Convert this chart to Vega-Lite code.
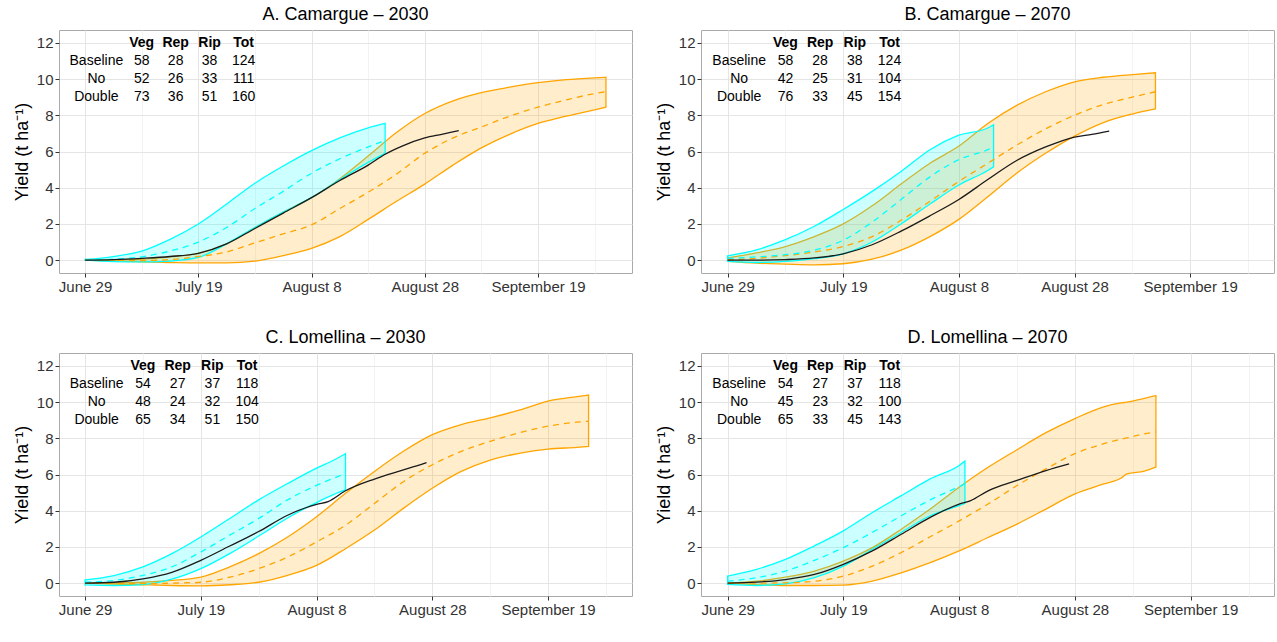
{
  "$schema": "https://vega.github.io/schema/vega-lite/v6.json",
  "padding": {"left": 12, "top": 5, "right": 2, "bottom": 5},
  "background": "white",
  "columns": 2,
  "spacing": {"row": 33, "column": 21},
  "config": {
    "font": "Liberation Sans",
    "view": {"stroke": "#aaaaaa", "strokeWidth": 1},
    "title": {"fontSize": 18, "fontWeight": "normal", "color": "#000000", "anchor": "middle", "frame": "group", "offset": 6},
    "axis": {"domain": false, "tickColor": "#333333", "tickSize": 4, "labelColor": "#333333", "labelFontSize": 15, "labelPadding": 2, "titleFontSize": 18, "titleFontWeight": "normal", "titleColor": "#000000", "labelOverlap": false, "labelFlush": false, "titlePadding": 5},
    "area": {"interpolate": "monotone"},
    "line": {"interpolate": "monotone"}
  },
  "datasets": {
    "bands": [
      {"p":"A","g":"o","d":0,"lo":0,"md":0,"hi":0},
      {"p":"A","g":"o","d":5,"lo":-0.05,"md":-0.01,"hi":0.02},
      {"p":"A","g":"o","d":10,"lo":-0.1,"md":-0.02,"hi":0.05},
      {"p":"A","g":"o","d":15,"lo":-0.13,"md":0.03,"hi":0.18},
      {"p":"A","g":"o","d":20,"lo":-0.15,"md":0.2,"hi":0.38},
      {"p":"A","g":"o","d":25,"lo":-0.15,"md":0.45,"hi":0.9},
      {"p":"A","g":"o","d":30,"lo":-0.05,"md":0.95,"hi":1.8},
      {"p":"A","g":"o","d":35,"lo":0.25,"md":1.45,"hi":2.65},
      {"p":"A","g":"o","d":40,"lo":0.65,"md":1.95,"hi":3.45},
      {"p":"A","g":"o","d":45,"lo":1.3,"md":2.85,"hi":4.5},
      {"p":"A","g":"o","d":50,"lo":2.25,"md":3.75,"hi":5.75},
      {"p":"A","g":"o","d":55,"lo":3.25,"md":4.75,"hi":7.05},
      {"p":"A","g":"o","d":60,"lo":4.2,"md":5.9,"hi":8.1},
      {"p":"A","g":"o","d":65,"lo":5.25,"md":6.75,"hi":8.8},
      {"p":"A","g":"o","d":70,"lo":6.2,"md":7.35,"hi":9.25},
      {"p":"A","g":"o","d":75,"lo":6.95,"md":7.95,"hi":9.55},
      {"p":"A","g":"o","d":80,"lo":7.55,"md":8.45,"hi":9.8},
      {"p":"A","g":"o","d":85,"lo":7.95,"md":8.85,"hi":9.97},
      {"p":"A","g":"o","d":90,"lo":8.3,"md":9.2,"hi":10.07},
      {"p":"A","g":"o","d":92,"lo":8.45,"md":9.3,"hi":10.1},
      {"p":"A","g":"c","d":0,"lo":0,"md":0,"hi":0.04},
      {"p":"A","g":"c","d":5,"lo":-0.08,"md":0.05,"hi":0.2},
      {"p":"A","g":"c","d":10,"lo":-0.1,"md":0.18,"hi":0.5},
      {"p":"A","g":"c","d":15,"lo":-0.05,"md":0.5,"hi":1.15},
      {"p":"A","g":"c","d":20,"lo":0.15,"md":1.0,"hi":2.0},
      {"p":"A","g":"c","d":25,"lo":0.9,"md":1.8,"hi":3.1},
      {"p":"A","g":"c","d":30,"lo":1.8,"md":2.85,"hi":4.25},
      {"p":"A","g":"c","d":35,"lo":2.65,"md":3.8,"hi":5.2},
      {"p":"A","g":"c","d":40,"lo":3.45,"md":4.8,"hi":6.05},
      {"p":"A","g":"c","d":45,"lo":4.45,"md":5.6,"hi":6.75},
      {"p":"A","g":"c","d":50,"lo":5.4,"md":6.25,"hi":7.3},
      {"p":"A","g":"c","d":53,"lo":5.9,"md":6.6,"hi":7.55},
      {"p":"B","g":"o","d":0,"lo":-0.07,"md":0.02,"hi":0.12},
      {"p":"B","g":"o","d":5,"lo":-0.17,"md":0.1,"hi":0.4},
      {"p":"B","g":"o","d":10,"lo":-0.22,"md":0.25,"hi":0.75},
      {"p":"B","g":"o","d":15,"lo":-0.26,"md":0.45,"hi":1.3},
      {"p":"B","g":"o","d":20,"lo":-0.2,"md":0.75,"hi":2.0},
      {"p":"B","g":"o","d":25,"lo":0.05,"md":1.3,"hi":3.0},
      {"p":"B","g":"o","d":30,"lo":0.55,"md":2.2,"hi":4.2},
      {"p":"B","g":"o","d":35,"lo":1.3,"md":3.25,"hi":5.35},
      {"p":"B","g":"o","d":40,"lo":2.25,"md":4.35,"hi":6.3},
      {"p":"B","g":"o","d":45,"lo":3.5,"md":5.35,"hi":7.55},
      {"p":"B","g":"o","d":50,"lo":4.8,"md":6.35,"hi":8.55},
      {"p":"B","g":"o","d":55,"lo":5.9,"md":7.25,"hi":9.3},
      {"p":"B","g":"o","d":60,"lo":6.85,"md":8.0,"hi":9.85},
      {"p":"B","g":"o","d":65,"lo":7.6,"md":8.6,"hi":10.1},
      {"p":"B","g":"o","d":70,"lo":8.07,"md":9.0,"hi":10.25},
      {"p":"B","g":"o","d":74,"lo":8.35,"md":9.3,"hi":10.35},
      {"p":"B","g":"c","d":0,"lo":-0.07,"md":0.1,"hi":0.24},
      {"p":"B","g":"c","d":5,"lo":-0.13,"md":0.18,"hi":0.57},
      {"p":"B","g":"c","d":10,"lo":-0.07,"md":0.3,"hi":1.13},
      {"p":"B","g":"c","d":15,"lo":0.08,"md":0.55,"hi":1.87},
      {"p":"B","g":"c","d":20,"lo":0.35,"md":1.1,"hi":2.8},
      {"p":"B","g":"c","d":25,"lo":1.0,"md":2.1,"hi":3.8},
      {"p":"B","g":"c","d":30,"lo":2.0,"md":3.35,"hi":4.9},
      {"p":"B","g":"c","d":35,"lo":3.1,"md":4.6,"hi":6.1},
      {"p":"B","g":"c","d":40,"lo":4.15,"md":5.55,"hi":6.9},
      {"p":"B","g":"c","d":45,"lo":4.95,"md":6.1,"hi":7.3},
      {"p":"B","g":"c","d":46,"lo":5.15,"md":6.25,"hi":7.48},
      {"p":"C","g":"o","d":0,"lo":0,"md":0,"hi":0},
      {"p":"C","g":"o","d":5,"lo":-0.05,"md":-0.02,"hi":0.02},
      {"p":"C","g":"o","d":10,"lo":-0.09,"md":-0.03,"hi":0.05},
      {"p":"C","g":"o","d":15,"lo":-0.13,"md":0.0,"hi":0.15},
      {"p":"C","g":"o","d":20,"lo":-0.15,"md":0.05,"hi":0.33},
      {"p":"C","g":"o","d":25,"lo":-0.09,"md":0.33,"hi":0.9},
      {"p":"C","g":"o","d":30,"lo":0.05,"md":0.8,"hi":1.63},
      {"p":"C","g":"o","d":35,"lo":0.43,"md":1.44,"hi":2.55},
      {"p":"C","g":"o","d":40,"lo":0.98,"md":2.28,"hi":3.67},
      {"p":"C","g":"o","d":45,"lo":1.9,"md":3.2,"hi":4.96},
      {"p":"C","g":"o","d":50,"lo":2.93,"md":4.4,"hi":6.17},
      {"p":"C","g":"o","d":55,"lo":4.13,"md":5.6,"hi":7.28},
      {"p":"C","g":"o","d":60,"lo":5.24,"md":6.54,"hi":8.2},
      {"p":"C","g":"o","d":65,"lo":6.17,"md":7.28,"hi":8.76},
      {"p":"C","g":"o","d":70,"lo":6.8,"md":7.83,"hi":9.13},
      {"p":"C","g":"o","d":75,"lo":7.17,"md":8.3,"hi":9.55},
      {"p":"C","g":"o","d":80,"lo":7.4,"md":8.67,"hi":10.05},
      {"p":"C","g":"o","d":85,"lo":7.5,"md":8.89,"hi":10.3},
      {"p":"C","g":"o","d":87,"lo":7.55,"md":8.94,"hi":10.39},
      {"p":"C","g":"c","d":0,"lo":-0.1,"md":0.05,"hi":0.18},
      {"p":"C","g":"c","d":5,"lo":-0.13,"md":0.15,"hi":0.42},
      {"p":"C","g":"c","d":10,"lo":-0.08,"md":0.43,"hi":0.9},
      {"p":"C","g":"c","d":15,"lo":0.22,"md":0.9,"hi":1.63},
      {"p":"C","g":"c","d":20,"lo":0.8,"md":1.72,"hi":2.55},
      {"p":"C","g":"c","d":25,"lo":1.63,"md":2.65,"hi":3.57},
      {"p":"C","g":"c","d":30,"lo":2.6,"md":3.57,"hi":4.6},
      {"p":"C","g":"c","d":35,"lo":3.6,"md":4.6,"hi":5.5},
      {"p":"C","g":"c","d":40,"lo":4.45,"md":5.4,"hi":6.35},
      {"p":"C","g":"c","d":43,"lo":4.9,"md":5.8,"hi":6.8},
      {"p":"C","g":"c","d":45,"lo":5.15,"md":6.05,"hi":7.15},
      {"p":"D","g":"o","d":0,"lo":0,"md":0,"hi":0},
      {"p":"D","g":"o","d":5,"lo":-0.08,"md":0.0,"hi":0.11},
      {"p":"D","g":"o","d":10,"lo":-0.13,"md":0.02,"hi":0.33},
      {"p":"D","g":"o","d":15,"lo":-0.13,"md":0.11,"hi":0.67},
      {"p":"D","g":"o","d":20,"lo":-0.11,"md":0.39,"hi":1.22},
      {"p":"D","g":"o","d":25,"lo":0.11,"md":0.94,"hi":1.96},
      {"p":"D","g":"o","d":30,"lo":0.57,"md":1.69,"hi":2.98},
      {"p":"D","g":"o","d":35,"lo":1.13,"md":2.56,"hi":4.09},
      {"p":"D","g":"o","d":40,"lo":1.78,"md":3.44,"hi":5.3},
      {"p":"D","g":"o","d":45,"lo":2.52,"md":4.37,"hi":6.4},
      {"p":"D","g":"o","d":50,"lo":3.26,"md":5.39,"hi":7.37},
      {"p":"D","g":"o","d":55,"lo":4.09,"md":6.31,"hi":8.31},
      {"p":"D","g":"o","d":60,"lo":4.93,"md":7.15,"hi":9.09},
      {"p":"D","g":"o","d":65,"lo":5.48,"md":7.7,"hi":9.74},
      {"p":"D","g":"o","d":68,"lo":5.81,"md":7.95,"hi":9.95},
      {"p":"D","g":"o","d":69,"lo":6.04,"md":8.02,"hi":10.0},
      {"p":"D","g":"o","d":72,"lo":6.19,"md":8.25,"hi":10.2},
      {"p":"D","g":"o","d":74,"lo":6.41,"md":8.35,"hi":10.35},
      {"p":"D","g":"c","d":0,"lo":-0.07,"md":0.11,"hi":0.39},
      {"p":"D","g":"c","d":5,"lo":-0.13,"md":0.3,"hi":0.76},
      {"p":"D","g":"c","d":10,"lo":-0.04,"md":0.67,"hi":1.31},
      {"p":"D","g":"c","d":15,"lo":0.3,"md":1.26,"hi":2.06},
      {"p":"D","g":"c","d":20,"lo":0.94,"md":1.96,"hi":2.89},
      {"p":"D","g":"c","d":25,"lo":1.87,"md":2.8,"hi":3.9},
      {"p":"D","g":"c","d":30,"lo":2.8,"md":3.72,"hi":4.83},
      {"p":"D","g":"c","d":35,"lo":3.72,"md":4.6,"hi":5.76},
      {"p":"D","g":"c","d":40,"lo":4.28,"md":5.33,"hi":6.5},
      {"p":"D","g":"c","d":41,"lo":4.4,"md":5.48,"hi":6.74}
    ],
    "obs": [
      {"p":"A","d":0,"v":0},{"p":"A","d":5,"v":0.03},{"p":"A","d":10,"v":0.1},{"p":"A","d":15,"v":0.2},
      {"p":"A","d":20,"v":0.38},{"p":"A","d":25,"v":0.9},{"p":"A","d":30,"v":1.75},{"p":"A","d":35,"v":2.6},
      {"p":"A","d":40,"v":3.45},{"p":"A","d":45,"v":4.4},{"p":"A","d":50,"v":5.25},{"p":"A","d":53,"v":5.85},
      {"p":"A","d":56,"v":6.3},{"p":"A","d":60,"v":6.75},{"p":"A","d":63,"v":6.95},{"p":"A","d":66,"v":7.15},
      {"p":"B","d":0,"v":0},{"p":"B","d":5,"v":0},{"p":"B","d":10,"v":0.03},{"p":"B","d":15,"v":0.12},
      {"p":"B","d":20,"v":0.35},{"p":"B","d":25,"v":0.85},{"p":"B","d":30,"v":1.6},{"p":"B","d":35,"v":2.45},
      {"p":"B","d":40,"v":3.35},{"p":"B","d":45,"v":4.45},{"p":"B","d":50,"v":5.5},{"p":"B","d":55,"v":6.25},
      {"p":"B","d":60,"v":6.8},{"p":"B","d":63,"v":6.95},{"p":"B","d":66,"v":7.13},
      {"p":"C","d":0,"v":0},{"p":"C","d":5,"v":0.05},{"p":"C","d":10,"v":0.24},{"p":"C","d":15,"v":0.6},
      {"p":"C","d":20,"v":1.26},{"p":"C","d":25,"v":2.05},{"p":"C","d":30,"v":2.85},{"p":"C","d":35,"v":3.75},
      {"p":"C","d":38,"v":4.15},{"p":"C","d":40,"v":4.35},{"p":"C","d":42,"v":4.5},{"p":"C","d":45,"v":5.1},
      {"p":"C","d":50,"v":5.75},{"p":"C","d":55,"v":6.25},{"p":"C","d":57,"v":6.45},{"p":"C","d":59,"v":6.65},
      {"p":"D","d":0,"v":0},{"p":"D","d":5,"v":0.06},{"p":"D","d":10,"v":0.2},{"p":"D","d":15,"v":0.48},
      {"p":"D","d":20,"v":1.04},{"p":"D","d":25,"v":1.78},{"p":"D","d":30,"v":2.7},{"p":"D","d":35,"v":3.63},
      {"p":"D","d":40,"v":4.37},{"p":"D","d":42,"v":4.56},{"p":"D","d":45,"v":5.1},{"p":"D","d":50,"v":5.67},
      {"p":"D","d":55,"v":6.22},{"p":"D","d":59,"v":6.59}
    ],
    "tab": [
      {"p":"A","d":10,"y":12,"t":"Veg","h":1},{"p":"A","d":16,"y":12,"t":"Rep","h":1},{"p":"A","d":22,"y":12,"t":"Rip","h":1},{"p":"A","d":28,"y":12,"t":"Tot","h":1},
      {"p":"A","d":2,"y":11,"t":"Baseline","h":0},{"p":"A","d":10,"y":11,"t":"58","h":0},{"p":"A","d":16,"y":11,"t":"28","h":0},{"p":"A","d":22,"y":11,"t":"38","h":0},{"p":"A","d":28,"y":11,"t":"124","h":0},
      {"p":"A","d":2,"y":10,"t":"No","h":0},{"p":"A","d":10,"y":10,"t":"52","h":0},{"p":"A","d":16,"y":10,"t":"26","h":0},{"p":"A","d":22,"y":10,"t":"33","h":0},{"p":"A","d":28,"y":10,"t":"111","h":0},
      {"p":"A","d":2,"y":9,"t":"Double","h":0},{"p":"A","d":10,"y":9,"t":"73","h":0},{"p":"A","d":16,"y":9,"t":"36","h":0},{"p":"A","d":22,"y":9,"t":"51","h":0},{"p":"A","d":28,"y":9,"t":"160","h":0},
      {"p":"B","d":10,"y":12,"t":"Veg","h":1},{"p":"B","d":16,"y":12,"t":"Rep","h":1},{"p":"B","d":22,"y":12,"t":"Rip","h":1},{"p":"B","d":28,"y":12,"t":"Tot","h":1},
      {"p":"B","d":2,"y":11,"t":"Baseline","h":0},{"p":"B","d":10,"y":11,"t":"58","h":0},{"p":"B","d":16,"y":11,"t":"28","h":0},{"p":"B","d":22,"y":11,"t":"38","h":0},{"p":"B","d":28,"y":11,"t":"124","h":0},
      {"p":"B","d":2,"y":10,"t":"No","h":0},{"p":"B","d":10,"y":10,"t":"42","h":0},{"p":"B","d":16,"y":10,"t":"25","h":0},{"p":"B","d":22,"y":10,"t":"31","h":0},{"p":"B","d":28,"y":10,"t":"104","h":0},
      {"p":"B","d":2,"y":9,"t":"Double","h":0},{"p":"B","d":10,"y":9,"t":"76","h":0},{"p":"B","d":16,"y":9,"t":"33","h":0},{"p":"B","d":22,"y":9,"t":"45","h":0},{"p":"B","d":28,"y":9,"t":"154","h":0},
      {"p":"C","d":10,"y":12,"t":"Veg","h":1},{"p":"C","d":16,"y":12,"t":"Rep","h":1},{"p":"C","d":22,"y":12,"t":"Rip","h":1},{"p":"C","d":28,"y":12,"t":"Tot","h":1},
      {"p":"C","d":2,"y":11,"t":"Baseline","h":0},{"p":"C","d":10,"y":11,"t":"54","h":0},{"p":"C","d":16,"y":11,"t":"27","h":0},{"p":"C","d":22,"y":11,"t":"37","h":0},{"p":"C","d":28,"y":11,"t":"118","h":0},
      {"p":"C","d":2,"y":10,"t":"No","h":0},{"p":"C","d":10,"y":10,"t":"48","h":0},{"p":"C","d":16,"y":10,"t":"24","h":0},{"p":"C","d":22,"y":10,"t":"32","h":0},{"p":"C","d":28,"y":10,"t":"104","h":0},
      {"p":"C","d":2,"y":9,"t":"Double","h":0},{"p":"C","d":10,"y":9,"t":"65","h":0},{"p":"C","d":16,"y":9,"t":"34","h":0},{"p":"C","d":22,"y":9,"t":"51","h":0},{"p":"C","d":28,"y":9,"t":"150","h":0},
      {"p":"D","d":10,"y":12,"t":"Veg","h":1},{"p":"D","d":16,"y":12,"t":"Rep","h":1},{"p":"D","d":22,"y":12,"t":"Rip","h":1},{"p":"D","d":28,"y":12,"t":"Tot","h":1},
      {"p":"D","d":2,"y":11,"t":"Baseline","h":0},{"p":"D","d":10,"y":11,"t":"54","h":0},{"p":"D","d":16,"y":11,"t":"27","h":0},{"p":"D","d":22,"y":11,"t":"37","h":0},{"p":"D","d":28,"y":11,"t":"118","h":0},
      {"p":"D","d":2,"y":10,"t":"No","h":0},{"p":"D","d":10,"y":10,"t":"45","h":0},{"p":"D","d":16,"y":10,"t":"23","h":0},{"p":"D","d":22,"y":10,"t":"32","h":0},{"p":"D","d":28,"y":10,"t":"100","h":0},
      {"p":"D","d":2,"y":9,"t":"Double","h":0},{"p":"D","d":10,"y":9,"t":"65","h":0},{"p":"D","d":16,"y":9,"t":"33","h":0},{"p":"D","d":22,"y":9,"t":"45","h":0},{"p":"D","d":28,"y":9,"t":"143","h":0}
    ]
  },
  "concat": [
    {
      "title": "A. Camargue – 2030",
      "width": 573, "height": 243,
      "encoding": {"x": {"field": "d", "type": "quantitative", "scale": {"domain": [-4.6, 96.6], "nice": false, "zero": false},
        "axis": {"title": null, "values": [0,10,20,30,40,50,60,70,80,90], "labelExpr": "datum.value === 0 ? 'June 29' : datum.value === 20 ? 'July 19' : datum.value === 40 ? 'August 8' : datum.value === 60 ? 'August 28' : datum.value === 80 ? 'September 19' : ''", "tickOpacity": {"condition": {"test": "datum.value % 20 === 0", "value": 1}, "value": 0}, "gridColor": {"condition": {"test": "datum.value % 20 === 0", "value": "#E5E5E5"}, "value": "#F3F3F3"}}}},
      "layer": [
        {"data": {"name": "bands"}, "transform": [{"filter": "datum.p === 'A' && datum.g === 'o'"}], "mark": {"type": "area", "fill": "#FFA500", "fillOpacity": 0.2, "stroke": "#FFA500", "strokeWidth": 1.3},
         "encoding": {"y": {"field": "lo", "type": "quantitative", "scale": {"domain": [-0.71, 12.71], "nice": false, "zero": false}, "axis": {"title": "Yield (t ha⁻¹)", "values": [0,1,2,3,4,5,6,7,8,9,10,11,12], "labelExpr": "datum.value % 2 === 0 ? datum.label : ''", "tickOpacity": {"condition": {"test": "datum.value % 2 === 0", "value": 1}, "value": 0}, "gridColor": {"condition": {"test": "datum.value % 2 === 0", "value": "#E5E5E5"}, "value": "#F3F3F3"}}}, "y2": {"field": "hi"}}},
        {"data": {"name": "bands"}, "transform": [{"filter": "datum.p === 'A' && datum.g === 'c'"}], "mark": {"type": "area", "fill": "#00FFFF", "fillOpacity": 0.2, "stroke": "#00FFFF", "strokeWidth": 1.3},
         "encoding": {"y": {"field": "lo", "type": "quantitative"}, "y2": {"field": "hi"}}},
        {"data": {"name": "bands"}, "transform": [{"filter": "datum.p === 'A' && datum.g === 'o'"}], "mark": {"type": "line", "color": "#FFA500", "strokeDash": [6, 5], "strokeWidth": 1.3},
         "encoding": {"y": {"field": "md", "type": "quantitative"}}},
        {"data": {"name": "bands"}, "transform": [{"filter": "datum.p === 'A' && datum.g === 'c'"}], "mark": {"type": "line", "color": "#00FFFF", "strokeDash": [6, 5], "strokeWidth": 1.3},
         "encoding": {"y": {"field": "md", "type": "quantitative"}}},
        {"data": {"name": "obs"}, "transform": [{"filter": "datum.p === 'A'"}], "mark": {"type": "line", "color": "#1a1a1a", "strokeWidth": 1.3},
         "encoding": {"y": {"field": "v", "type": "quantitative"}}},
        {"data": {"name": "tab"}, "transform": [{"filter": "datum.p === 'A' && datum.h === 1"}], "mark": {"type": "text", "fontSize": 14, "fontWeight": "bold", "color": "#000000"},
         "encoding": {"y": {"field": "y", "type": "quantitative"}, "text": {"field": "t"}}},
        {"data": {"name": "tab"}, "transform": [{"filter": "datum.p === 'A' && datum.h === 0"}], "mark": {"type": "text", "fontSize": 14, "color": "#000000"},
         "encoding": {"y": {"field": "y", "type": "quantitative"}, "text": {"field": "t"}}}
      ]
    },
    {
      "title": "B. Camargue – 2070",
      "width": 573, "height": 243,
      "encoding": {"x": {"field": "d", "type": "quantitative", "scale": {"domain": [-4.6, 94.5], "nice": false, "zero": false},
        "axis": {"title": null, "values": [0,10,20,30,40,50,60,70,80,90], "labelExpr": "datum.value === 0 ? 'June 29' : datum.value === 20 ? 'July 19' : datum.value === 40 ? 'August 8' : datum.value === 60 ? 'August 28' : datum.value === 80 ? 'September 19' : ''", "tickOpacity": {"condition": {"test": "datum.value % 20 === 0", "value": 1}, "value": 0}, "gridColor": {"condition": {"test": "datum.value % 20 === 0", "value": "#E5E5E5"}, "value": "#F3F3F3"}}}},
      "layer": [
        {"data": {"name": "bands"}, "transform": [{"filter": "datum.p === 'B' && datum.g === 'o'"}], "mark": {"type": "area", "fill": "#FFA500", "fillOpacity": 0.2, "stroke": "#FFA500", "strokeWidth": 1.3},
         "encoding": {"y": {"field": "lo", "type": "quantitative", "scale": {"domain": [-0.71, 12.71], "nice": false, "zero": false}, "axis": {"title": "Yield (t ha⁻¹)", "values": [0,1,2,3,4,5,6,7,8,9,10,11,12], "labelExpr": "datum.value % 2 === 0 ? datum.label : ''", "tickOpacity": {"condition": {"test": "datum.value % 2 === 0", "value": 1}, "value": 0}, "gridColor": {"condition": {"test": "datum.value % 2 === 0", "value": "#E5E5E5"}, "value": "#F3F3F3"}}}, "y2": {"field": "hi"}}},
        {"data": {"name": "bands"}, "transform": [{"filter": "datum.p === 'B' && datum.g === 'c'"}], "mark": {"type": "area", "fill": "#00FFFF", "fillOpacity": 0.2, "stroke": "#00FFFF", "strokeWidth": 1.3},
         "encoding": {"y": {"field": "lo", "type": "quantitative"}, "y2": {"field": "hi"}}},
        {"data": {"name": "bands"}, "transform": [{"filter": "datum.p === 'B' && datum.g === 'o'"}], "mark": {"type": "line", "color": "#FFA500", "strokeDash": [6, 5], "strokeWidth": 1.3},
         "encoding": {"y": {"field": "md", "type": "quantitative"}}},
        {"data": {"name": "bands"}, "transform": [{"filter": "datum.p === 'B' && datum.g === 'c'"}], "mark": {"type": "line", "color": "#00FFFF", "strokeDash": [6, 5], "strokeWidth": 1.3},
         "encoding": {"y": {"field": "md", "type": "quantitative"}}},
        {"data": {"name": "obs"}, "transform": [{"filter": "datum.p === 'B'"}], "mark": {"type": "line", "color": "#1a1a1a", "strokeWidth": 1.3},
         "encoding": {"y": {"field": "v", "type": "quantitative"}}},
        {"data": {"name": "tab"}, "transform": [{"filter": "datum.p === 'B' && datum.h === 1"}], "mark": {"type": "text", "fontSize": 14, "fontWeight": "bold", "color": "#000000"},
         "encoding": {"y": {"field": "y", "type": "quantitative"}, "text": {"field": "t"}}},
        {"data": {"name": "tab"}, "transform": [{"filter": "datum.p === 'B' && datum.h === 0"}], "mark": {"type": "text", "fontSize": 14, "color": "#000000"},
         "encoding": {"y": {"field": "y", "type": "quantitative"}, "text": {"field": "t"}}}
      ]
    },
    {
      "title": "C. Lomellina – 2030",
      "width": 573, "height": 243,
      "encoding": {"x": {"field": "d", "type": "quantitative", "scale": {"domain": [-4.5, 94.5], "nice": false, "zero": false},
        "axis": {"title": null, "values": [0,10,20,30,40,50,60,70,80,90], "labelExpr": "datum.value === 0 ? 'June 29' : datum.value === 20 ? 'July 19' : datum.value === 40 ? 'August 8' : datum.value === 60 ? 'August 28' : datum.value === 80 ? 'September 19' : ''", "tickOpacity": {"condition": {"test": "datum.value % 20 === 0", "value": 1}, "value": 0}, "gridColor": {"condition": {"test": "datum.value % 20 === 0", "value": "#E5E5E5"}, "value": "#F3F3F3"}}}},
      "layer": [
        {"data": {"name": "bands"}, "transform": [{"filter": "datum.p === 'C' && datum.g === 'o'"}], "mark": {"type": "area", "fill": "#FFA500", "fillOpacity": 0.2, "stroke": "#FFA500", "strokeWidth": 1.3},
         "encoding": {"y": {"field": "lo", "type": "quantitative", "scale": {"domain": [-0.71, 12.71], "nice": false, "zero": false}, "axis": {"title": "Yield (t ha⁻¹)", "values": [0,1,2,3,4,5,6,7,8,9,10,11,12], "labelExpr": "datum.value % 2 === 0 ? datum.label : ''", "tickOpacity": {"condition": {"test": "datum.value % 2 === 0", "value": 1}, "value": 0}, "gridColor": {"condition": {"test": "datum.value % 2 === 0", "value": "#E5E5E5"}, "value": "#F3F3F3"}}}, "y2": {"field": "hi"}}},
        {"data": {"name": "bands"}, "transform": [{"filter": "datum.p === 'C' && datum.g === 'c'"}], "mark": {"type": "area", "fill": "#00FFFF", "fillOpacity": 0.2, "stroke": "#00FFFF", "strokeWidth": 1.3},
         "encoding": {"y": {"field": "lo", "type": "quantitative"}, "y2": {"field": "hi"}}},
        {"data": {"name": "bands"}, "transform": [{"filter": "datum.p === 'C' && datum.g === 'o'"}], "mark": {"type": "line", "color": "#FFA500", "strokeDash": [6, 5], "strokeWidth": 1.3},
         "encoding": {"y": {"field": "md", "type": "quantitative"}}},
        {"data": {"name": "bands"}, "transform": [{"filter": "datum.p === 'C' && datum.g === 'c'"}], "mark": {"type": "line", "color": "#00FFFF", "strokeDash": [6, 5], "strokeWidth": 1.3},
         "encoding": {"y": {"field": "md", "type": "quantitative"}}},
        {"data": {"name": "obs"}, "transform": [{"filter": "datum.p === 'C'"}], "mark": {"type": "line", "color": "#1a1a1a", "strokeWidth": 1.3},
         "encoding": {"y": {"field": "v", "type": "quantitative"}}},
        {"data": {"name": "tab"}, "transform": [{"filter": "datum.p === 'C' && datum.h === 1"}], "mark": {"type": "text", "fontSize": 14, "fontWeight": "bold", "color": "#000000"},
         "encoding": {"y": {"field": "y", "type": "quantitative"}, "text": {"field": "t"}}},
        {"data": {"name": "tab"}, "transform": [{"filter": "datum.p === 'C' && datum.h === 0"}], "mark": {"type": "text", "fontSize": 14, "color": "#000000"},
         "encoding": {"y": {"field": "y", "type": "quantitative"}, "text": {"field": "t"}}}
      ]
    },
    {
      "title": "D. Lomellina – 2070",
      "width": 573, "height": 243,
      "encoding": {"x": {"field": "d", "type": "quantitative", "scale": {"domain": [-4.6, 94.4], "nice": false, "zero": false},
        "axis": {"title": null, "values": [0,10,20,30,40,50,60,70,80,90], "labelExpr": "datum.value === 0 ? 'June 29' : datum.value === 20 ? 'July 19' : datum.value === 40 ? 'August 8' : datum.value === 60 ? 'August 28' : datum.value === 80 ? 'September 19' : ''", "tickOpacity": {"condition": {"test": "datum.value % 20 === 0", "value": 1}, "value": 0}, "gridColor": {"condition": {"test": "datum.value % 20 === 0", "value": "#E5E5E5"}, "value": "#F3F3F3"}}}},
      "layer": [
        {"data": {"name": "bands"}, "transform": [{"filter": "datum.p === 'D' && datum.g === 'o'"}], "mark": {"type": "area", "fill": "#FFA500", "fillOpacity": 0.2, "stroke": "#FFA500", "strokeWidth": 1.3},
         "encoding": {"y": {"field": "lo", "type": "quantitative", "scale": {"domain": [-0.71, 12.71], "nice": false, "zero": false}, "axis": {"title": "Yield (t ha⁻¹)", "values": [0,1,2,3,4,5,6,7,8,9,10,11,12], "labelExpr": "datum.value % 2 === 0 ? datum.label : ''", "tickOpacity": {"condition": {"test": "datum.value % 2 === 0", "value": 1}, "value": 0}, "gridColor": {"condition": {"test": "datum.value % 2 === 0", "value": "#E5E5E5"}, "value": "#F3F3F3"}}}, "y2": {"field": "hi"}}},
        {"data": {"name": "bands"}, "transform": [{"filter": "datum.p === 'D' && datum.g === 'c'"}], "mark": {"type": "area", "fill": "#00FFFF", "fillOpacity": 0.2, "stroke": "#00FFFF", "strokeWidth": 1.3},
         "encoding": {"y": {"field": "lo", "type": "quantitative"}, "y2": {"field": "hi"}}},
        {"data": {"name": "bands"}, "transform": [{"filter": "datum.p === 'D' && datum.g === 'o'"}], "mark": {"type": "line", "color": "#FFA500", "strokeDash": [6, 5], "strokeWidth": 1.3},
         "encoding": {"y": {"field": "md", "type": "quantitative"}}},
        {"data": {"name": "bands"}, "transform": [{"filter": "datum.p === 'D' && datum.g === 'c'"}], "mark": {"type": "line", "color": "#00FFFF", "strokeDash": [6, 5], "strokeWidth": 1.3},
         "encoding": {"y": {"field": "md", "type": "quantitative"}}},
        {"data": {"name": "obs"}, "transform": [{"filter": "datum.p === 'D'"}], "mark": {"type": "line", "color": "#1a1a1a", "strokeWidth": 1.3},
         "encoding": {"y": {"field": "v", "type": "quantitative"}}},
        {"data": {"name": "tab"}, "transform": [{"filter": "datum.p === 'D' && datum.h === 1"}], "mark": {"type": "text", "fontSize": 14, "fontWeight": "bold", "color": "#000000"},
         "encoding": {"y": {"field": "y", "type": "quantitative"}, "text": {"field": "t"}}},
        {"data": {"name": "tab"}, "transform": [{"filter": "datum.p === 'D' && datum.h === 0"}], "mark": {"type": "text", "fontSize": 14, "color": "#000000"},
         "encoding": {"y": {"field": "y", "type": "quantitative"}, "text": {"field": "t"}}}
      ]
    }
  ]
}
